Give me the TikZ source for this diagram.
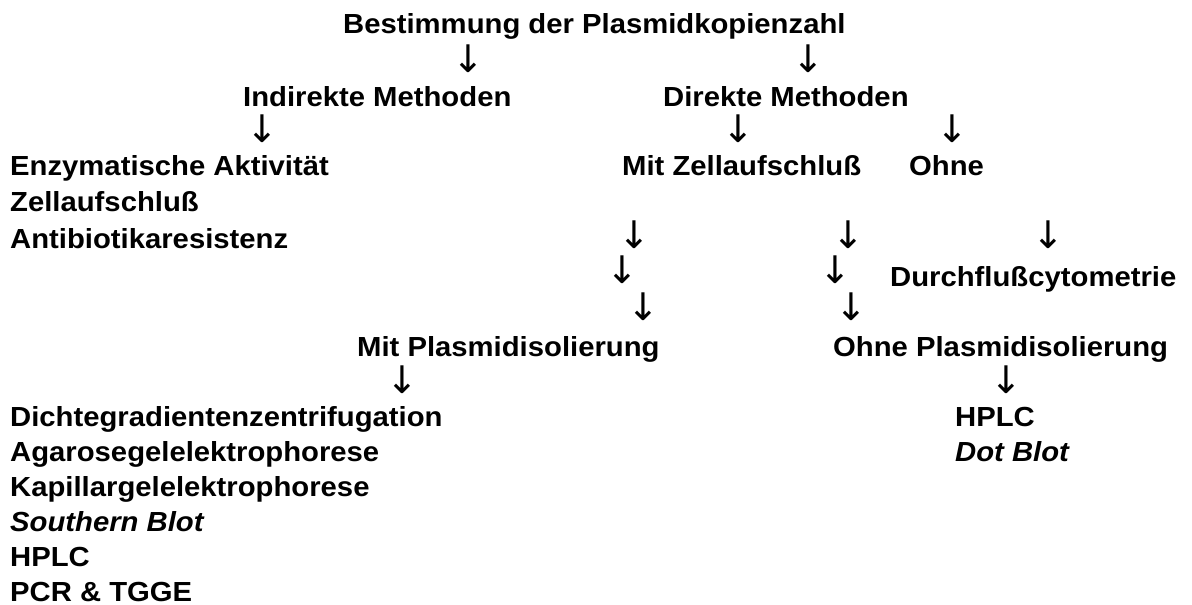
\documentclass[tikz,border=0pt]{standalone}
\usepackage{fontspec}
\setmainfont{Liberation Sans}[FakeStretch=1.06]
\newfontfamily\pfeilfont{DejaVu Sans}

\begin{document}
\begin{tikzpicture}[x=1pt, y=-1pt,
  main/.style = {anchor=base west, inner sep=0pt, font=\fontsize{27.6}{34}\selectfont\bfseries},
  pf/.style = {anchor=base, inner sep=0pt, font=\fontsize{38}{40}\selectfont\pfeilfont}]
\useasboundingbox (0,0) rectangle (1192,605);

\node[main] (titel) at (343,34) {Bestimmung der Plasmidkopienzahl};
\node[pf] (p1) at (468,72) {↓};
\node[pf] (p2) at (808,72) {↓};

\node[main] (indirekt) at (243,106) {Indirekte Methoden};
\node[main] (direkt) at (663,106) {Direkte Methoden};
\node[pf] (p3) at (262,142) {↓};
\node[pf] (p4) at (738,142) {↓};
\node[pf] (p5) at (952,142) {↓};

% indirekte Methoden
\node[main] (enzym) at (10,175) {Enzymatische Aktivität};
\node[main] (zell) at (10,211) {Zellaufschluß};
\node[main] (anti) at (10,248) {Antibiotikaresistenz};

% direkte Methoden
\node[main] (mitzell) at (622,175) {Mit Zellaufschluß};
\node[main] (ohne) at (909,175) {Ohne};

\node[pf] (p6) at (634,248) {↓};
\node[pf] (p7) at (848,248) {↓};
\node[pf] (p8) at (1048,248) {↓};
\node[pf] (p9) at (622,283) {↓};
\node[pf] (p10) at (835,283) {↓};
\node[main] (durch) at (890,286) {Durchflußcytometrie};
\node[pf] (p11) at (643,320) {↓};
\node[pf] (p12) at (851,320) {↓};

\node[main] (mitpl) at (357,356) {Mit Plasmidisolierung};
\node[main] (ohnepl) at (833,356) {Ohne Plasmidisolierung};
\node[pf] (p13) at (402,393) {↓};
\node[pf] (p14) at (1006,393) {↓};

% mit Plasmidisolierung
\node[main] (dichte) at (10,426) {Dichtegradientenzentrifugation};
\node[main] (agarose) at (10,461) {Agarosegelelektrophorese};
\node[main] (kapillar) at (10,496) {Kapillargelelektrophorese};
\node[main] (southern) at (10,531) {\itshape Southern Blot};
\node[main] (hplc1) at (10,566) {HPLC};
\node[main] (pcr) at (10,601) {PCR \& TGGE};

% ohne Plasmidisolierung
\node[main] (hplc2) at (955,426) {HPLC};
\node[main] (dot) at (955,461) {\itshape Dot Blot};

\end{tikzpicture}
\end{document}
